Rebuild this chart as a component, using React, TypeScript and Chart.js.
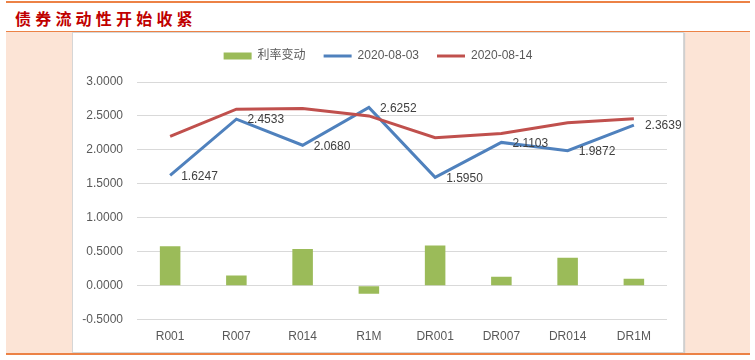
import React, { useEffect, useRef } from 'react';
import { Chart, registerables } from 'chart.js';

Chart.register(...registerables);

const title = '债券流动性开始收紧';
const categories = ['R001', 'R007', 'R014', 'R1M', 'DR001', 'DR007', 'DR014', 'DR1M'];
const rateChange = [0.58, 0.15, 0.54, -0.12, 0.59, 0.13, 0.41, 0.1];
const series0803 = [1.6247, 2.4533, 2.068, 2.6252, 1.595, 2.1103, 1.9872, 2.3639];
const series0814 = [2.2, 2.6, 2.61, 2.5, 2.18, 2.24, 2.4, 2.46];
const seriesNames = ['利率变动', '2020-08-03', '2020-08-14'];
const yMin = -0.5;
const yMax = 3.0;
const yStep = 0.5;

const FONT = '"Liberation Sans", "Noto Sans CJK SC", sans-serif';
const GREEN = '#9bbb59';
const BLUE = '#4f81bd';
const RED = '#c0504d';
const TEXT = '#595959';
const ORANGE = '#ec8246';

const labelPlugin = {
  id: 'pointLabels',
  beforeUpdate(chart: any) {
    const lg = chart.legend;
    if (lg && !lg._fixedHeight) {
      const orig = lg.fit.bind(lg);
      lg.fit = function () {
        orig();
        this.height = 50;
      };
      lg._fixedHeight = true;
    }
  },
  afterDatasetsDraw(chart: any) {
    const meta = chart.getDatasetMeta(1);
    const ctx = chart.ctx;
    ctx.save();
    ctx.font = '12px ' + FONT;
    ctx.fillStyle = '#404040';
    ctx.textAlign = 'left';
    ctx.textBaseline = 'middle';
    meta.data.forEach((pt: any, i: number) => {
      const v = chart.data.datasets[1].data[i] as number;
      ctx.fillText(v.toFixed(4), pt.x + 11, pt.y + 1);
    });
    ctx.restore();
  },
};

export default function App() {
  const ref = useRef<HTMLCanvasElement | null>(null);

  useEffect(() => {
    if (!ref.current) return;
    const chart = new Chart(ref.current, {
      type: 'bar',
      data: {
        labels: categories,
        datasets: [
          {
            type: 'bar',
            label: seriesNames[0],
            data: rateChange,
            backgroundColor: GREEN,
            borderWidth: 0,
            categoryPercentage: 1,
            barPercentage: 0.31,
            pointStyle: 'rect',
            order: 3,
          } as any,
          {
            type: 'line',
            label: seriesNames[1],
            data: series0803,
            borderColor: BLUE,
            backgroundColor: BLUE,
            borderWidth: 3,
            pointRadius: 0,
            pointStyle: 'line',
            tension: 0,
            order: 2,
          } as any,
          {
            type: 'line',
            label: seriesNames[2],
            data: series0814,
            borderColor: RED,
            backgroundColor: RED,
            borderWidth: 3,
            pointRadius: 0,
            pointStyle: 'line',
            tension: 0,
            order: 1,
          } as any,
        ],
      },
      options: {
        responsive: false,
        animation: false,
        layout: { padding: { left: 0, right: 0, top: -1, bottom: -2 } },
        plugins: {
          tooltip: { enabled: false },
          legend: {
            position: 'top',
            labels: {
              usePointStyle: true,
              pointStyleWidth: 28,
              boxHeight: 7,
              padding: 18,
              color: TEXT,
              font: { size: 12, family: FONT },
              sort: (a: any, b: any) => a.datasetIndex - b.datasetIndex,
            },
          } as any,
        },
        scales: {
          x: {
            offset: true,
            grid: { display: false, drawTicks: false },
            border: { display: false },
            ticks: { color: TEXT, font: { size: 12, family: FONT }, padding: 10 },
          },
          y: {
            min: yMin,
            max: yMax,
            grid: { color: '#d9d9d9', drawTicks: false, lineWidth: 1 },
            border: { display: false },
            afterFit: (s: any) => {
              s.width = 64;
            },
            ticks: {
              stepSize: yStep,
              color: TEXT,
              padding: 14,
              font: { size: 12, family: FONT },
              callback: (v: any) => Number(v).toFixed(4),
            },
          },
          yRight: {
            position: 'right',
            min: yMin,
            max: yMax,
            grid: { display: false, drawTicks: false },
            border: { display: false },
            ticks: { display: false },
            afterFit: (s: any) => {
              s.width = 16;
            },
          },
        },
      } as any,
      plugins: [labelPlugin],
    });
    return () => chart.destroy();
  }, []);

  return (
    <div style={{ position: 'absolute', left: 0, top: 0, width: 755, height: 360, background: '#ffffff', overflow: 'hidden' }}>
      <div style={{ position: 'absolute', left: 6, top: 1, width: 744, height: 2, background: ORANGE }} />
      <div
        style={{
          position: 'absolute',
          left: 15,
          top: 5,
          height: 26,
          lineHeight: '26px',
          fontFamily: '"Noto Sans CJK SC", sans-serif',
          fontWeight: 700,
          fontSize: 16,
          letterSpacing: 4.2,
          color: '#c00000',
        }}
      >
        {title}
      </div>
      <div style={{ position: 'absolute', left: 6, top: 31, width: 744, height: 1, background: ORANGE }} />
      <div style={{ position: 'absolute', left: 6, top: 32, width: 744, height: 321, background: '#fce4d6' }} />
      <div
        style={{
          position: 'absolute',
          left: 72,
          top: 32,
          width: 610,
          height: 319,
          background: '#ffffff',
          border: '1px solid #d6d6d6',
          boxShadow: '1px 1px 1px #cfcfcf',
        }}
      />
      <canvas ref={ref} width={610} height={319} style={{ position: 'absolute', left: 73, top: 33 }} />
      <div style={{ position: 'absolute', left: 6, top: 353, width: 744, height: 2, background: ORANGE }} />
    </div>
  );
}
